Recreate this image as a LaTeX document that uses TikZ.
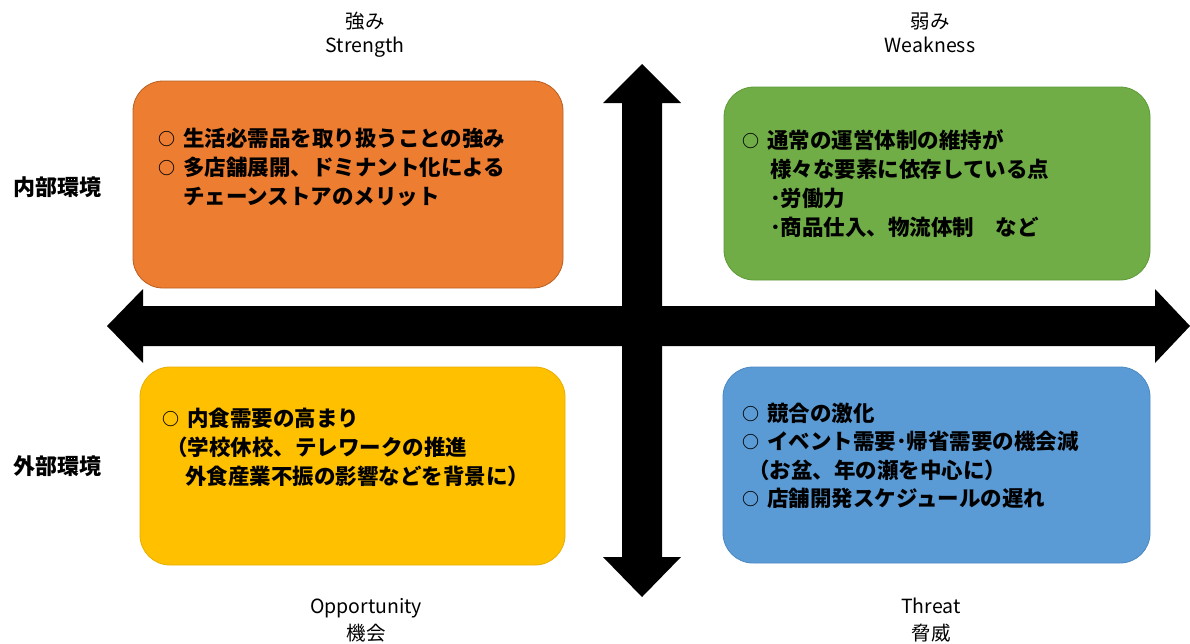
\documentclass[tikz,border=0pt]{standalone}
\usepackage{fontspec}
\setmainfont{Noto Sans CJK JP}
\definecolor{cOrange}{HTML}{ED7D31}
\definecolor{cOrangeD}{HTML}{B85F22}
\definecolor{cGreen}{HTML}{70AD47}
\definecolor{cGreenD}{HTML}{5E9A38}
\definecolor{cYellow}{HTML}{FFC000}
\definecolor{cYellowD}{HTML}{E8AE00}
\definecolor{cBlue}{HTML}{5B9BD5}
\definecolor{cBlueD}{HTML}{4A88C2}
\newcommand\blt{\makebox[25pt][l]{\raisebox{1pt}{\fontsize{17}{17}\selectfont ○}}}
\tikzset{
  quad/.style={rounded corners=30pt, line width=0.8pt},
  quadtext/.style={anchor=west, inner sep=0pt, align=left, font=\fontsize{21.5}{29}\selectfont\bfseries},
  axislabel/.style={inner sep=0pt, font=\fontsize{19.5}{22}\selectfont},
  sidelabel/.style={inner sep=0pt, font=\fontsize{22}{26}\selectfont\bfseries},
  bigarrow/.style={fill=black}
}
\begin{document}
\begin{tikzpicture}[x=1pt,y=-1pt]
\useasboundingbox (0,0) rectangle (1190,643);
% boxes
\draw[quad, fill=cOrange, draw=cOrangeD] (133,81) rectangle (563,288);
\draw[quad, fill=cGreen, draw=cGreenD] (724,87) rectangle (1150,280);
\draw[quad, fill=cYellow, draw=cYellowD] (140,367) rectangle (565,565);
\draw[quad, fill=cBlue, draw=cBlueD] (723,367) rectangle (1150,563);
% arrows
\fill[bigarrow] (107,326) -- (143,289) -- (143,306) -- (1155,306) -- (1155,289) -- (1190,326) -- (1155,363) -- (1155,346) -- (143,346) -- (143,363) -- cycle;
\fill[bigarrow] (642,64) -- (681,103) -- (662,103) -- (662,557) -- (681,557) -- (642,597) -- (603,557) -- (622,557) -- (622,103) -- (603,103) -- cycle;
% box texts
\node[quadtext] (tS) at (158,167) {\blt 生活必需品を取り扱うことの強み\\
\blt 多店舗展開、ドミナント化による\\
\hspace*{25pt}チェーンストアのメリット};
\node[quadtext] (tW) at (742,184) {\blt 通常の運営体制の維持が\\
\hspace*{28pt}様々な要素に依存している点\\
\hspace*{28pt}･労働力\\
\hspace*{28pt}･商品仕入、物流体制　など};
\node[quadtext] (tO) at (162,447) {\blt 内食需要の高まり\\
\hspace*{4pt}（学校休校、テレワークの推進\\
\hspace*{23pt}外食産業不振の影響などを背景に）};
\node[quadtext, font=\fontsize{21.5}{28.5}\selectfont\bfseries] (tT) at (742,456) {\blt 競合の激化\\
\blt イベント需要･帰省需要の機会減\\
\hspace*{6pt}（お盆、年の瀬を中心に）\\
\blt 店舗開発スケジュールの遅れ};
% axis labels
\node[axislabel] (lS1) at (365,21) {強み};
\node[axislabel, anchor=base] (lS2) at (365,52) {Strength};
\node[axislabel] (lW1) at (930,21) {弱み};
\node[axislabel, anchor=base] (lW2) at (930,52) {Weakness};
\node[axislabel, anchor=base] (lO1) at (366,613) {Opportunity};
\node[axislabel] (lO2) at (366,633) {機会};
\node[axislabel, anchor=base] (lT1) at (931,613) {Threat};
\node[axislabel] (lT2) at (931,633) {脅威};
\node[sidelabel] (lIn) at (57,187) {内部環境};
\node[sidelabel] (lEx) at (57,466) {外部環境};
\end{tikzpicture}
\end{document}
